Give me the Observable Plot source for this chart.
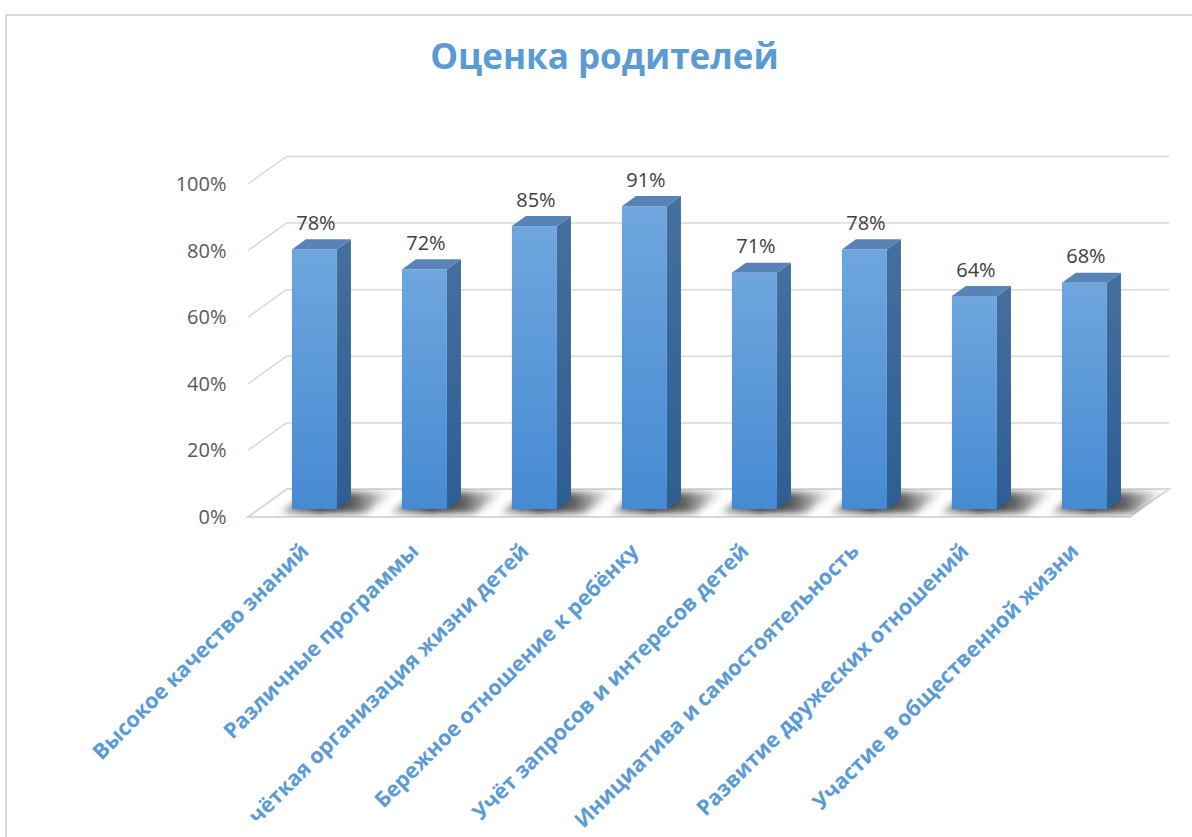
<!DOCTYPE html>
<html>
<head>
<meta charset="utf-8">
<script src="https://cdn.jsdelivr.net/npm/d3@7"></script>
<script src="https://cdn.jsdelivr.net/npm/@observablehq/plot@0.6"></script>
<style>
  html, body { margin: 0; padding: 0; background: #fff; overflow: hidden; }
  #wrap { position: relative; width: 1192px; height: 837px; overflow: hidden; }
  #frame { position: absolute; left: 5px; top: 14px; width: 1400px; height: 1200px;
           border-left: 2px solid #d9d9d9; border-top: 2px solid #d9d9d9; }
  #title { position: absolute; left: 0; top: 32px; width: 1209px; text-align: center;
           font-family: "Open Sans", sans-serif; font-weight: 700; font-size: 35px;
           line-height: 1.362; color: #5b9bd5; }
  #chart { position: absolute; left: 0; top: 0; }
</style>
</head>
<body>
<div id="wrap">
  <div id="frame"></div>
  <div id="chart"></div>
  <div id="title"></div>
</div>
<script>
// ---- data ----
const titleText = "Оценка родителей";
const categories = [
  "Высокое качество знаний",
  "Различные программы",
  "чёткая организация жизни детей",
  "Бережное отношение к ребёнку",
  "Учёт запросов и интересов детей",
  "Инициатива и самостоятельность",
  "Развитие дружеских отношений",
  "Участие в общественной жизни"
];
const values = [0.78, 0.72, 0.85, 0.91, 0.71, 0.78, 0.64, 0.68];
const yTicks = [0, 0.2, 0.4, 0.6, 0.8, 1.0];
const yTickLabels = ["0%", "20%", "40%", "60%", "80%", "100%"];

const data = categories.map((c, i) => ({category: c, value: values[i]}));

document.getElementById("title").textContent = titleText;

// ---- 3D geometry (pixel offsets of depth) ----
const DX = 39, DY = -28;       // full depth of floor / back wall
const F0 = 0.28, F1 = 0.64;    // depth fractions of bar front / back faces
const fx0 = DX * F0, fy0 = DY * F0;
const sdx = DX * (F1 - F0), sdy = DY * (F1 - F0);

function floorMark(index, scales, values, dims) {
  const {width, marginLeft, marginRight} = dims;
  const xL = marginLeft, xR = width - marginRight, y0 = scales.y(0);
  const g = d3.create("svg:g");
  const defs = g.append("defs");
  defs.append("filter").attr("id", "shBlur").attr("x", "-50%").attr("y", "-50%")
    .attr("width", "200%").attr("height", "200%")
    .append("feGaussianBlur").attr("stdDeviation", 3.6);
  const floorD = `M${xL},${y0}L${xR},${y0}L${xR + DX},${y0 + DY}L${xL + DX},${y0 + DY}Z`;
  defs.append("clipPath").attr("id", "floorClip").append("path").attr("d", floorD);
  const grad = defs.append("linearGradient").attr("id", "shGrad")
    .attr("x1", 0).attr("x2", 1).attr("y1", 0).attr("y2", 0);
  grad.append("stop").attr("offset", "0%").attr("stop-color", "#000").attr("stop-opacity", 0.25);
  grad.append("stop").attr("offset", "35%").attr("stop-color", "#111").attr("stop-opacity", 0.9);
  grad.append("stop").attr("offset", "65%").attr("stop-color", "#222").attr("stop-opacity", 0.72);
  grad.append("stop").attr("offset", "100%").attr("stop-color", "#333").attr("stop-opacity", 0);

  g.append("path").attr("d", floorD).attr("fill", "#fff")
    .attr("stroke", "#d9d9d9").attr("stroke-width", 2);

  // diagonal grid lines on the left side wall
  for (const t of yTicks) {
    if (t === 0) continue;
    const y = scales.y(t);
    g.append("line").attr("x1", xL).attr("y1", y).attr("x2", xL + DX).attr("y2", y + DY)
      .attr("stroke", "#d9d9d9").attr("stroke-width", 1.5);
  }

  // shadows of bars on the floor
  const bw = scales.x.bandwidth();
  const sg = g.append("g").attr("clip-path", "url(#floorClip)");
  for (const d of data) {
    const x0 = scales.x(d.category) + fx0, x1 = x0 + bw;
    const yF = y0 - 4, yB = y0 + DY + 3;
    const k = (yF - yB) * DX / -DY;
    sg.append("path")
      .attr("d", `M${x0 - 12},${yF}L${x1 + 28},${yF}L${x1 + 28 + k},${yB}L${x0 - 12 + k},${yB}Z`)
      .attr("fill", "url(#shGrad)")
      .attr("filter", "url(#shBlur)");
  }
  return g.node();
}

function bars3d(index, scales) {
  const g = d3.create("svg:g");
  const defs = g.append("defs");
  const fg = defs.append("linearGradient").attr("id", "frontGrad")
    .attr("x1", 0).attr("x2", 0).attr("y1", 0).attr("y2", 1);
  fg.append("stop").attr("offset", "0%").attr("stop-color", "#6fa6de");
  fg.append("stop").attr("offset", "100%").attr("stop-color", "#468ad2");
  const sgd = defs.append("linearGradient").attr("id", "sideGrad")
    .attr("x1", 0).attr("x2", 0).attr("y1", 0).attr("y2", 1);
  sgd.append("stop").attr("offset", "0%").attr("stop-color", "#456f9e");
  sgd.append("stop").attr("offset", "100%").attr("stop-color", "#2d5e92");
  const bw = scales.x.bandwidth();
  for (const i of index) {
    const d = data[i];
    const x0 = scales.x(d.category) + fx0, x1 = x0 + bw;
    const yb = scales.y(0) + fy0, yt = scales.y(d.value) + fy0;
    g.append("path")
      .attr("d", `M${x1},${yt}L${x1 + sdx},${yt + sdy}L${x1 + sdx},${yb + sdy}L${x1},${yb}Z`)
      .attr("fill", "url(#sideGrad)");
    g.append("path")
      .attr("d", `M${x0},${yt}L${x0 + sdx},${yt + sdy}L${x1 + sdx},${yt + sdy}L${x1},${yt}Z`)
      .attr("fill", "#5783b7");
    g.append("rect").attr("x", x0).attr("y", yt).attr("width", bw).attr("height", yb - yt)
      .attr("fill", "url(#frontGrad)");
  }
  return g.node();
}

const chart = Plot.plot({
  width: 1192,
  height: 837,
  marginLeft: 248,
  marginRight: 62,
  marginTop: 184,
  marginBottom: 320,
  style: {fontFamily: "'Open Sans', sans-serif", background: "transparent", overflow: "visible"},
  x: {type: "band", domain: categories, paddingInner: 0.59, paddingOuter: 0.295, axis: null},
  y: {domain: [0, 1], axis: null},
  marks: [
    Plot.ruleY(yTicks, {y: d => d, dx: DX, dy: DY, stroke: "#d9d9d9", strokeWidth: 1.5}),
    floorMark,
    Plot.barY(data, {x: "category", y: "value", render: bars3d}),
    Plot.text(yTicks, {
      y: d => d, text: (d, i) => yTickLabels[i], frameAnchor: "left", textAnchor: "end",
      dx: -22, fontSize: 20, fill: "#595959"
    }),
    Plot.text(data, {
      x: "category", y: "value", text: d => Math.round(d.value * 100) + "%",
      dx: fx0 + 1, dy: -34, fontSize: 20, fill: "#404040"
    }),
    Plot.text(data, {
      x: "category", text: "category", frameAnchor: "bottom", rotate: -45, textAnchor: "end",
      dx: 6, dy: 35, fontSize: 21.5, fontWeight: "bold", fill: "#5b9bd5"
    })
  ]
});
document.getElementById("chart").appendChild(chart);
</script>
</body>
</html>
